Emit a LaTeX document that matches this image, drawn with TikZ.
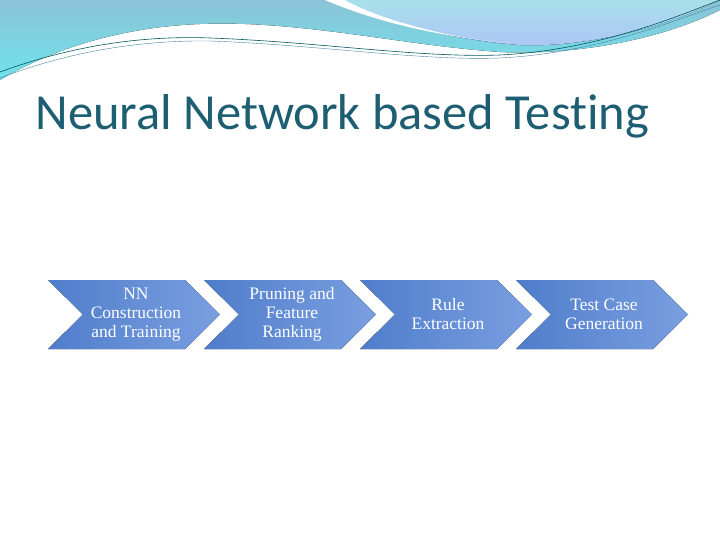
\documentclass[tikz,border=0pt]{standalone}
\usepackage{fontspec}
\setmainfont{Liberation Serif}
\newfontfamily\titlefont[Ligatures=NoCommon]{Carlito}
\definecolor{chevL}{HTML}{4F7DCB}
\definecolor{chevR}{HTML}{7A9FE0}
\definecolor{waveA}{HTML}{8BC3D6}
\definecolor{waveB}{HTML}{6FE3EC}
\definecolor{waveC}{HTML}{A9E0EA}
\definecolor{titleC}{HTML}{1D5E72}
\begin{document}
\begin{tikzpicture}[x=1pt,y=-1pt,
  chev/.style={left color=chevL, right color=chevR, draw=none},
  lbl/.style={text=white,font=\fontsize{17.5}{19}\selectfont,align=center}]
\useasboundingbox (0,0) rectangle (720,540);
\fill[white] (0,0) rectangle (720,540);
% top decoration
\fill[top color=waveA, bottom color=waveB] (0,0) -- (720,0) -- (720,10) .. controls (650,45) and (560,55) .. (500,52)
  .. controls (400,45) and (300,20) .. (200,24) .. controls (120,27) and (50,50) .. (0,80) -- cycle;
\fill[top color=waveC, bottom color=waveC!70!blue!60!white] (340,0) .. controls (380,20) and (450,40) .. (520,45) .. controls (600,48) and (680,20) .. (720,0) -- cycle;
\fill[white] (325,0) .. controls (360,15) and (420,35) .. (510,43) .. controls (440,38) and (370,15) .. (345,0) -- cycle;
\draw[teal!70!black, line width=0.6pt] (0,72) .. controls (60,50) and (130,35) .. (210,38) .. controls (320,42) and (420,58) .. (500,55) .. controls (600,50) and (680,15) .. (720,0);
\draw[cyan!60!black, line width=0.4pt] (0,78) .. controls (60,55) and (130,40) .. (210,41) .. controls (320,45) and (420,61) .. (500,58) .. controls (600,53) and (680,18) .. (720,5);
% title
\node[anchor=west, text=titleC, font=\titlefont\fontsize{50.5}{56}\selectfont] (title) at (32,116) {Neural Network based Testing};
% chevrons
\foreach \i/\t in {0/{NN\\Construction\\and Training},1/{Pruning and\\Feature\\Ranking},2/{Rule\\Extraction},3/{Test Case\\Generation}}{
  \pgfmathsetmacro{\xo}{48+156*\i}
  \fill[chev] (\xo,280) -- (\xo+137,280) -- (\xo+172,314.5) -- (\xo+137,349) -- (\xo,349) -- (\xo+35,314.5) -- cycle;
  \node[lbl] (c\i) at (\xo+88,314.5) {\t};
}
\end{tikzpicture}
\end{document}
